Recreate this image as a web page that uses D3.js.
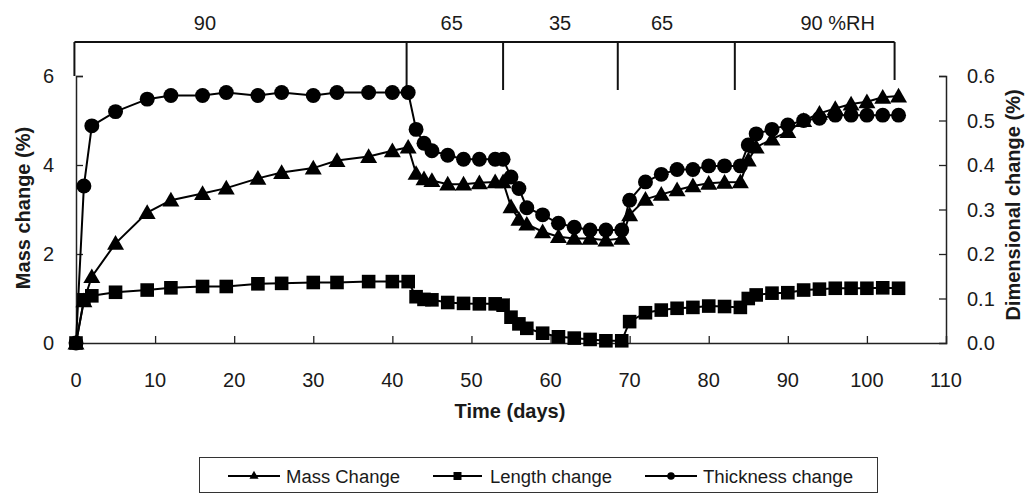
<!DOCTYPE html>
<html>
<head>
<meta charset="utf-8">
<script src="https://cdn.jsdelivr.net/npm/d3@7"></script>
<style>
  html, body { margin: 0; padding: 0; background: #fff; }
  svg { display: block; }
  text { font-family: "Liberation Sans", Arial, sans-serif; fill: #1a1a1a; }
</style>
</head>
<body>
<svg id="chart" width="1027" height="494"></svg>
<script>
// ---------------- data ----------------
const days = [0,1,2,5,9,12,16,19,23,26,30,33,37,40,42,43,44,45,47,49,51,53,54,55,56,57,59,61,63,65,67,69,70,72,74,76,78,80,82,84,85,86,88,90,92,94,96,98,100,102,104];
const massChange = [0,0.95,1.49,2.24,2.93,3.21,3.36,3.48,3.70,3.83,3.93,4.10,4.19,4.32,4.40,3.81,3.69,3.65,3.57,3.57,3.60,3.62,3.62,3.06,2.78,2.67,2.50,2.39,2.35,2.35,2.31,2.35,2.88,3.23,3.34,3.44,3.53,3.59,3.61,3.62,4.11,4.40,4.58,4.75,5.00,5.16,5.27,5.37,5.42,5.52,5.55];
const lengthChange = [0,0.097,0.106,0.114,0.119,0.124,0.127,0.127,0.133,0.134,0.136,0.136,0.138,0.138,0.138,0.104,0.098,0.097,0.091,0.089,0.088,0.088,0.085,0.058,0.043,0.033,0.022,0.014,0.011,0.008,0.005,0.005,0.048,0.068,0.074,0.078,0.080,0.083,0.082,0.080,0.100,0.108,0.112,0.113,0.119,0.121,0.123,0.123,0.123,0.124,0.123];
const thicknessChange = [0,0.353,0.488,0.52,0.548,0.556,0.556,0.563,0.556,0.563,0.556,0.563,0.563,0.563,0.563,0.48,0.449,0.432,0.422,0.413,0.413,0.413,0.413,0.373,0.347,0.304,0.288,0.269,0.26,0.254,0.254,0.254,0.321,0.362,0.379,0.39,0.39,0.398,0.398,0.398,0.445,0.47,0.48,0.49,0.50,0.505,0.512,0.512,0.512,0.512,0.512];

const xTicks = [0,10,20,30,40,50,60,70,80,90,100,110];
const leftTicks = [0,2,4,6];
const rightTicks = [0,0.1,0.2,0.3,0.4,0.5,0.6];

// RH bracket: boundaries (days) and labels with their positions (days)
const rhBoundaries = [-0.2, 41.8, 54, 68.5, 83.3, 103.5];
const rhLabels = ["90", "65", "35", "65", "90 %RH"];
const rhLabelDays = [16.3, 47.5, 61.2, 74.1, 96.3];

const seriesNames = ["Mass Change", "Length change", "Thickness change"];

// ---------------- layout ----------------
const svg = d3.select("#chart");
const x = d3.scaleLinear().domain([0, 110]).range([76, 946]);
const yL = d3.scaleLinear().domain([0, 6]).range([343, 76]);
const yR = d3.scaleLinear().domain([0, 0.6]).range([343, 76]);

const axisColor = "#222";

const gx = svg.append("g").attr("transform", "translate(0,343)")
  .call(d3.axisTop(x).tickValues(xTicks).tickSize(7).tickFormat(""));
const gl = svg.append("g").attr("transform", "translate(76,0)")
  .call(d3.axisRight(yL).tickValues(leftTicks).tickSize(7).tickFormat(""));
const gr = svg.append("g").attr("transform", "translate(946,0)")
  .call(d3.axisLeft(yR).tickValues(rightTicks).tickSize(7).tickFormat(""));
[gx, gl, gr].forEach(g => {
  g.select(".domain").attr("stroke", axisColor).attr("stroke-width", 1.5);
  g.selectAll(".tick line").attr("stroke", axisColor).attr("stroke-width", 1.3);
});
gx.selectAll(".tick").filter(d => d === 0 || d === 110).remove();
gl.selectAll(".tick").filter(d => d === 0).remove();
gr.selectAll(".tick").filter(d => d === 0).remove();

// tick labels
svg.append("g").selectAll("text").data(xTicks).join("text")
  .attr("x", d => x(d)).attr("y", 387)
  .attr("text-anchor", "middle").attr("font-size", 20)
  .text(d => d);
svg.append("g").selectAll("text").data(leftTicks).join("text")
  .attr("x", 54).attr("y", d => yL(d) + 7)
  .attr("text-anchor", "end").attr("font-size", 20)
  .text(d => d);
svg.append("g").selectAll("text").data(rightTicks).join("text")
  .attr("x", 967).attr("y", d => yR(d) + 7)
  .attr("text-anchor", "start").attr("font-size", 20)
  .text(d => d.toFixed(1));

// axis titles
svg.append("text").attr("transform", "translate(30,208) rotate(-90)")
  .attr("text-anchor", "middle").attr("font-size", 20).attr("font-weight", "bold")
  .text("Mass change (%)");
svg.append("text").attr("transform", "translate(1020,205) rotate(-90)")
  .attr("text-anchor", "middle").attr("font-size", 20).attr("font-weight", "bold")
  .text("Dimensional change (%)");
svg.append("text").attr("x", 510).attr("y", 418)
  .attr("text-anchor", "middle").attr("font-size", 20).attr("font-weight", "bold")
  .text("Time (days)");

// RH bracket
const bracketY = 42;
const bracketEnds = [76, 92, 90, 90, 90, 80];
svg.append("line")
  .attr("x1", x(rhBoundaries[0])).attr("x2", x(rhBoundaries[rhBoundaries.length - 1]))
  .attr("y1", bracketY).attr("y2", bracketY)
  .attr("stroke", "#111").attr("stroke-width", 2);
svg.append("g").selectAll("line").data(rhBoundaries).join("line")
  .attr("x1", d => x(d)).attr("x2", d => x(d))
  .attr("y1", bracketY).attr("y2", (d, i) => bracketEnds[i])
  .attr("stroke", "#111").attr("stroke-width", 2);
svg.append("g").selectAll("text").data(rhLabels).join("text")
  .attr("x", (d, i) => x(rhLabelDays[i])).attr("y", 30)
  .attr("text-anchor", "middle").attr("font-size", 20)
  .text(d => d);

// ---------------- series ----------------
const sym = {
  tri: d3.symbol().type(d3.symbolTriangle).size(125),
  sq: d3.symbol().type(d3.symbolSquare).size(185),
  circ: d3.symbol().type(d3.symbolCircle).size(175)
};

function drawSeries(values, yScale, shape) {
  const pts = days.map((d, i) => [d, values[i]]);
  svg.append("path").datum(pts)
    .attr("fill", "none").attr("stroke", "#000").attr("stroke-width", 2)
    .attr("d", d3.line().x(d => x(d[0])).y(d => yScale(d[1])));
  svg.append("g").selectAll("path").data(pts).join("path")
    .attr("transform", d => `translate(${x(d[0])},${yScale(d[1]) + (shape === sym.tri ? 1.5 : 0)})`)
    .attr("d", shape).attr("fill", "#000");
}
drawSeries(massChange, yL, sym.tri);
drawSeries(lengthChange, yR, sym.sq);
drawSeries(thicknessChange, yR, sym.circ);

// ---------------- legend ----------------
svg.append("rect").attr("x", 199.5).attr("y", 457.5).attr("width", 678).attr("height", 35)
  .attr("fill", "#fff").attr("stroke", "#333").attr("stroke-width", 1);
const legendItems = [
  { name: seriesNames[0], x1: 228, x2: 280, shape: d3.symbol().type(d3.symbolTriangle).size(36), tx: 286, tw: 114 },
  { name: seriesNames[1], x1: 433, x2: 482, shape: d3.symbol().type(d3.symbolSquare).size(64), tx: 490, tw: 122 },
  { name: seriesNames[2], x1: 645, x2: 697, shape: d3.symbol().type(d3.symbolCircle).size(45), tx: 703, tw: 150 }
];
const lg = svg.append("g").selectAll("g").data(legendItems).join("g");
lg.append("line").attr("x1", d => d.x1).attr("x2", d => d.x2).attr("y1", 476).attr("y2", 476)
  .attr("stroke", "#000").attr("stroke-width", 2);
lg.append("path").attr("transform", d => `translate(${(d.x1 + d.x2) / 2},476)`)
  .attr("d", d => d.shape()).attr("fill", "#000");
lg.append("text").attr("x", d => d.tx).attr("y", 482.5).attr("font-size", 18)
  .attr("textLength", d => d.tw).attr("lengthAdjust", "spacingAndGlyphs")
  .text(d => d.name);
</script>
</body>
</html>
